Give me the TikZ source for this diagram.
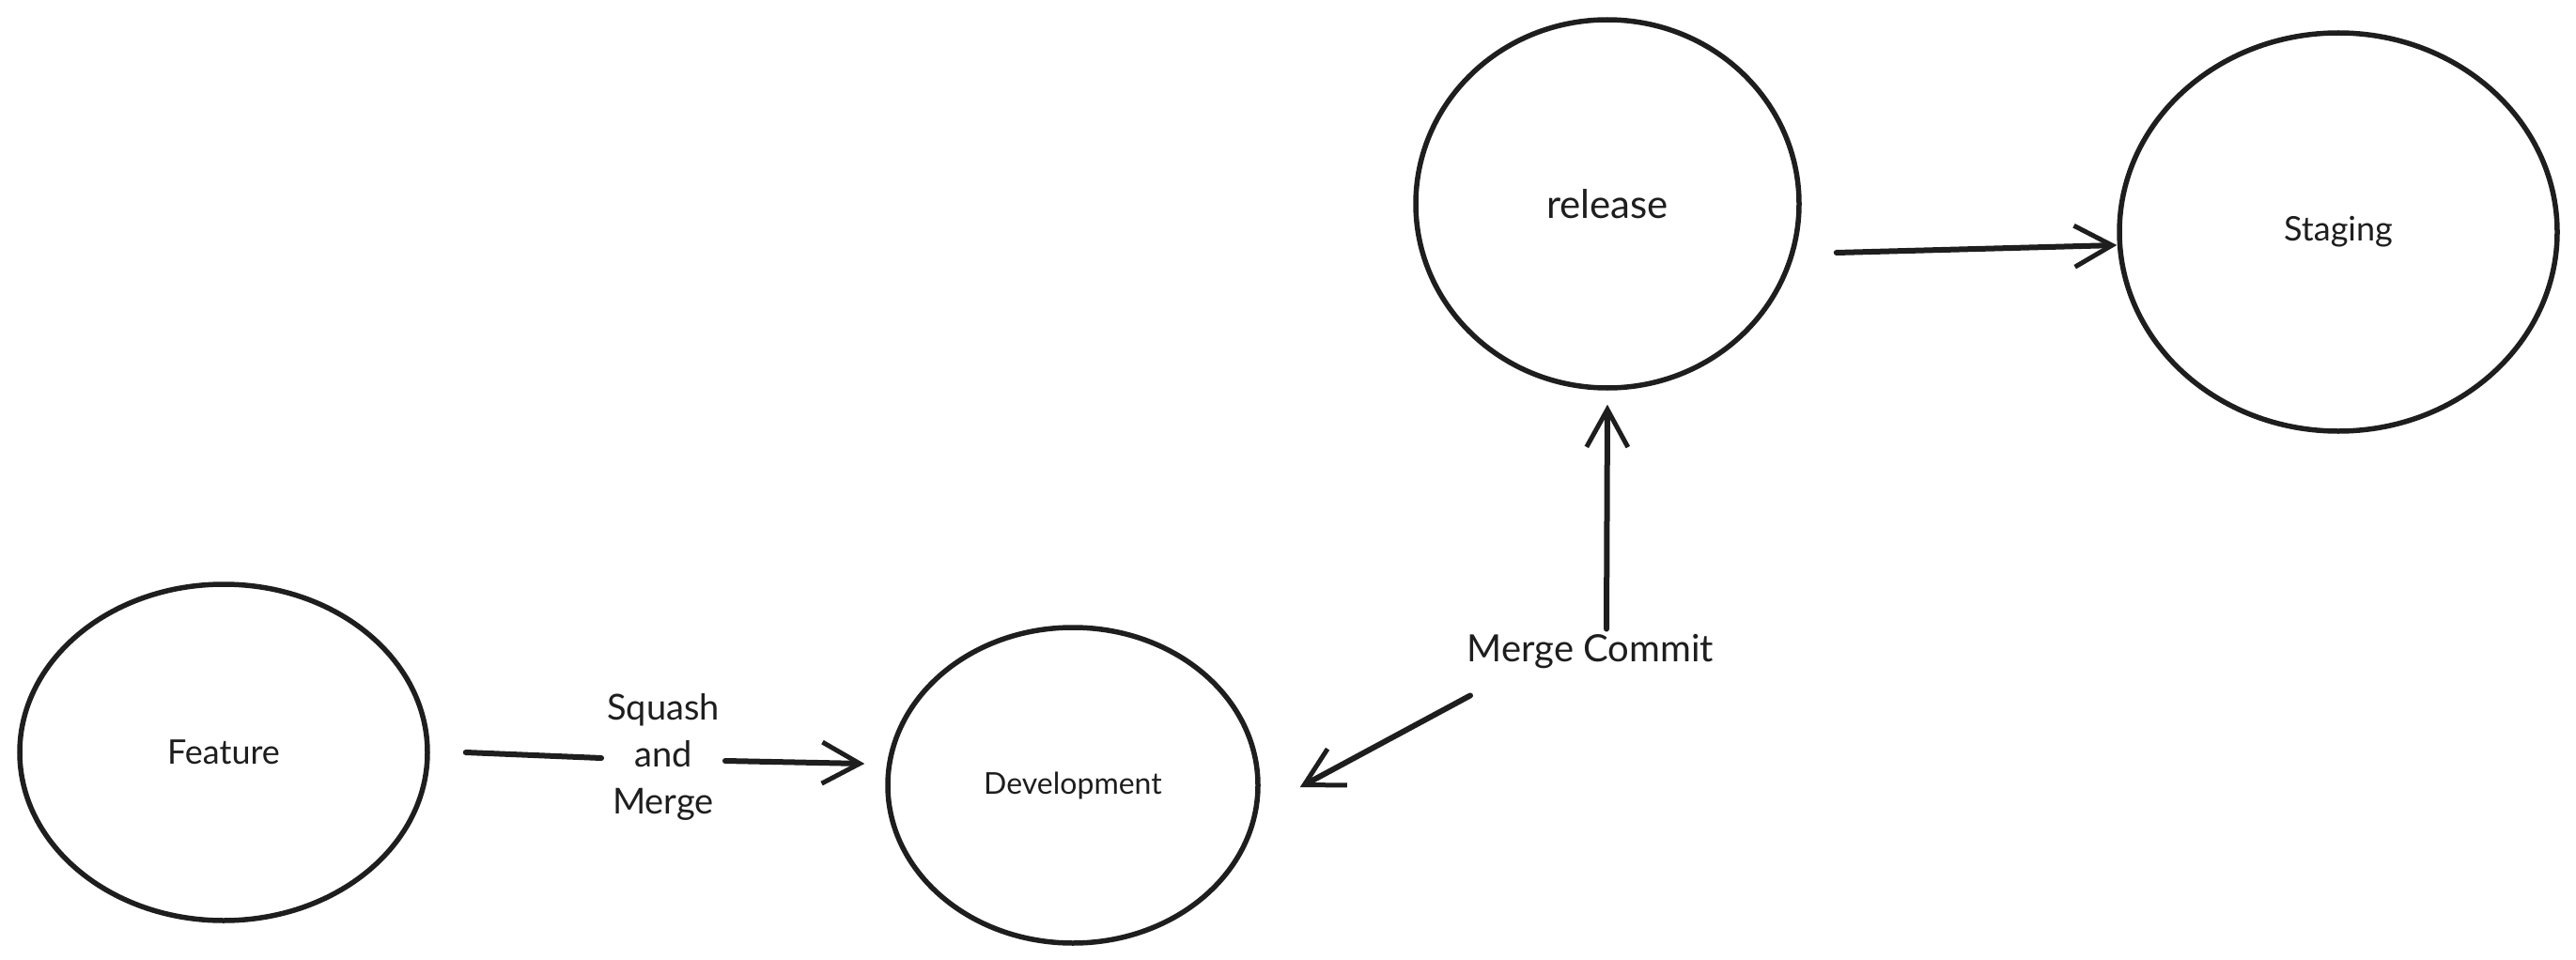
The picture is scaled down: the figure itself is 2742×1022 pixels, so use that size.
\documentclass[tikz,border=0pt]{standalone}
\usepackage{fontspec}
\setmainfont{Lato}
\usetikzlibrary{shapes.geometric,arrows.meta}
\definecolor{ink}{HTML}{1E1E1E}
\tikzset{
  branch/.style={ellipse, draw=ink, line width=5.5pt, inner sep=0pt, text=ink},
  lbl/.style={text=ink, align=center, inner sep=6pt},
  conn/.style={draw=ink, line width=6pt, line cap=round},
  arr/.style={conn, -{Straight Barb[length=40pt,width=44pt,line width=5pt]}},
}
\begin{document}
\begin{tikzpicture}[x=1pt,y=-1pt]
\useasboundingbox (0,0) rectangle (2742,1022);
\node[branch, minimum width=434pt, minimum height=358pt, font=\fontsize{36}{42}\selectfont] (feature) at (238,801) {Feature};
\node[branch, minimum width=394pt, minimum height=336pt, font=\fontsize{32}{38}\selectfont] (dev) at (1142,836) {Development};
\node[branch, minimum width=408pt, minimum height=392pt, font=\fontsize{42}{48}\selectfont] (release) at (1711,217) {release};
\node[branch, minimum width=466pt, minimum height=424pt, font=\fontsize{36}{42}\selectfont] (staging) at (2489,247) {Staging};
\node[lbl, font=\fontsize{38}{50}\selectfont] (sqm) at (706,806) {Squash\\and\\Merge};
\node[lbl, font=\fontsize{40}{46}\selectfont] (mc) at (1693,694) {Merge Commit};
\draw[conn] ([xshift=38pt]feature.east) -- ([yshift=-1pt]sqm.west);
\draw[arr] ([yshift=-4pt]sqm.east) -- ([xshift=-22pt,yshift=23pt]dev.west);
\draw[arr] ([xshift=17pt]mc.north) -- ([yshift=-15pt]release.south);
\draw[arr] ([shift={(-128pt,-22pt)}]mc.south) -- ([shift={(42pt,-2pt)}]dev.east);
\draw[arr] ([shift={(37pt,-52pt)}]release.east) -- ([yshift=-14pt]staging.west);
\end{tikzpicture}
\end{document}
